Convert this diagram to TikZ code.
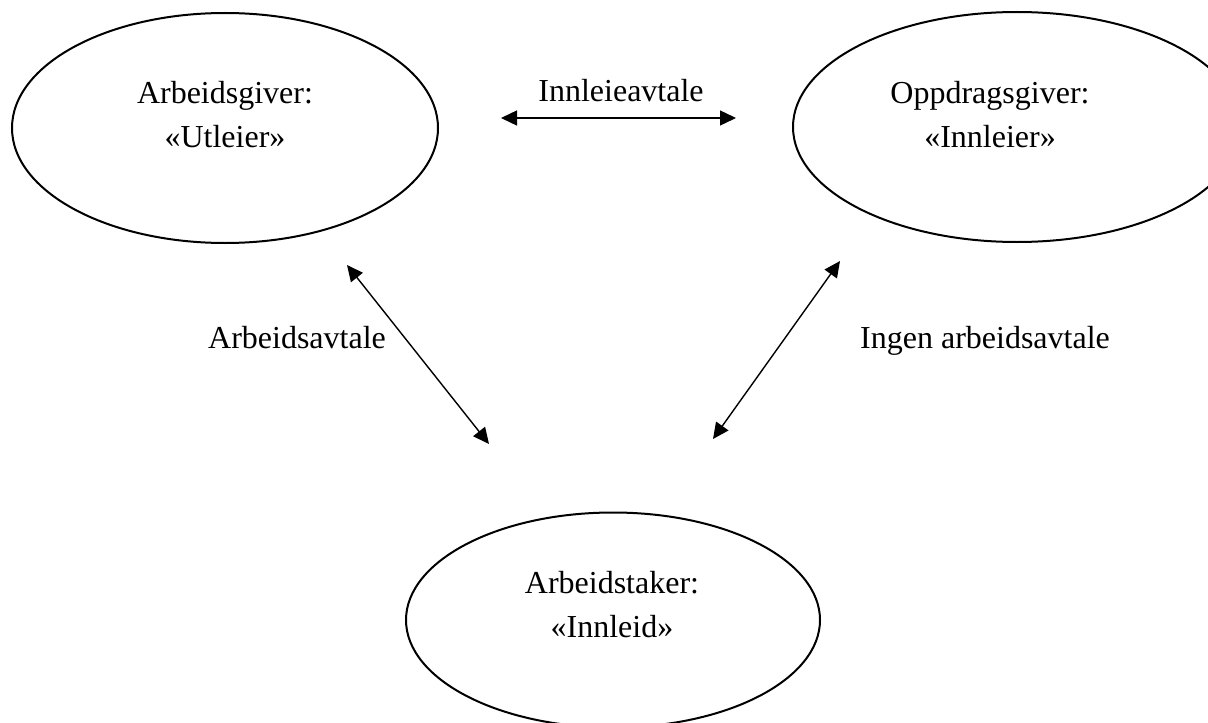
\documentclass[tikz,border=0pt]{standalone}
\usepackage{fontspec}
\setmainfont{Liberation Serif}
\usetikzlibrary{shapes.geometric,arrows.meta}
\begin{document}
\begin{tikzpicture}[x=0.5pt,y=-0.5pt,
  party/.style={ellipse,draw=black,line width=1pt,inner sep=0pt},
  partytext/.style={align=center,inner sep=0pt,font=\fontsize{16pt}{22pt}\selectfont},
  lbl/.style={inner sep=0pt,anchor=base,font=\fontsize{16pt}{19pt}\selectfont},
  deal/.style={{Triangle[length=8pt,width=7.5pt]}-{Triangle[length=8pt,width=7.5pt]},line width=0.7pt}]
  \useasboundingbox (0,0) rectangle (1208,722);
  \clip (0,0) rectangle (1208,722);

  % the three parties
  \node[party,minimum width=213pt,minimum height=115pt] (giver) at (225,128) {};
  \node[party,minimum width=224pt,minimum height=115pt] (client) at (1017,127) {};
  \node[party,minimum width=207pt,minimum height=107.5pt] (worker) at (613,620) {};

  \node[partytext] (giverT) at (225,115) {Arbeidsgiver:\\«Utleier»};
  \node[partytext] (clientT) at (990,115) {Oppdragsgiver:\\«Innleier»};
  \node[partytext] (workerT) at (612,605) {Arbeidstaker:\\«Innleid»};

  % ends of the agreement arrows
  \coordinate (a1) at (501,118);
  \coordinate (a2) at (736,118);
  \coordinate (b1) at (347,265);
  \coordinate (b2) at (489,444);
  \coordinate (c1) at (840,261);
  \coordinate (c2) at (713,439);

  \draw[deal] (a1) -- (a2);
  \draw[deal] (b1) -- (b2);
  \draw[deal] (c1) -- (c2);

  \node[lbl] (lease) at (621,102) {Innleieavtale};
  \node[lbl] (contract) at (297,348) {Arbeidsavtale};
  \node[lbl] (nocontract) at (985,348) {Ingen arbeidsavtale};
\end{tikzpicture}
\end{document}
